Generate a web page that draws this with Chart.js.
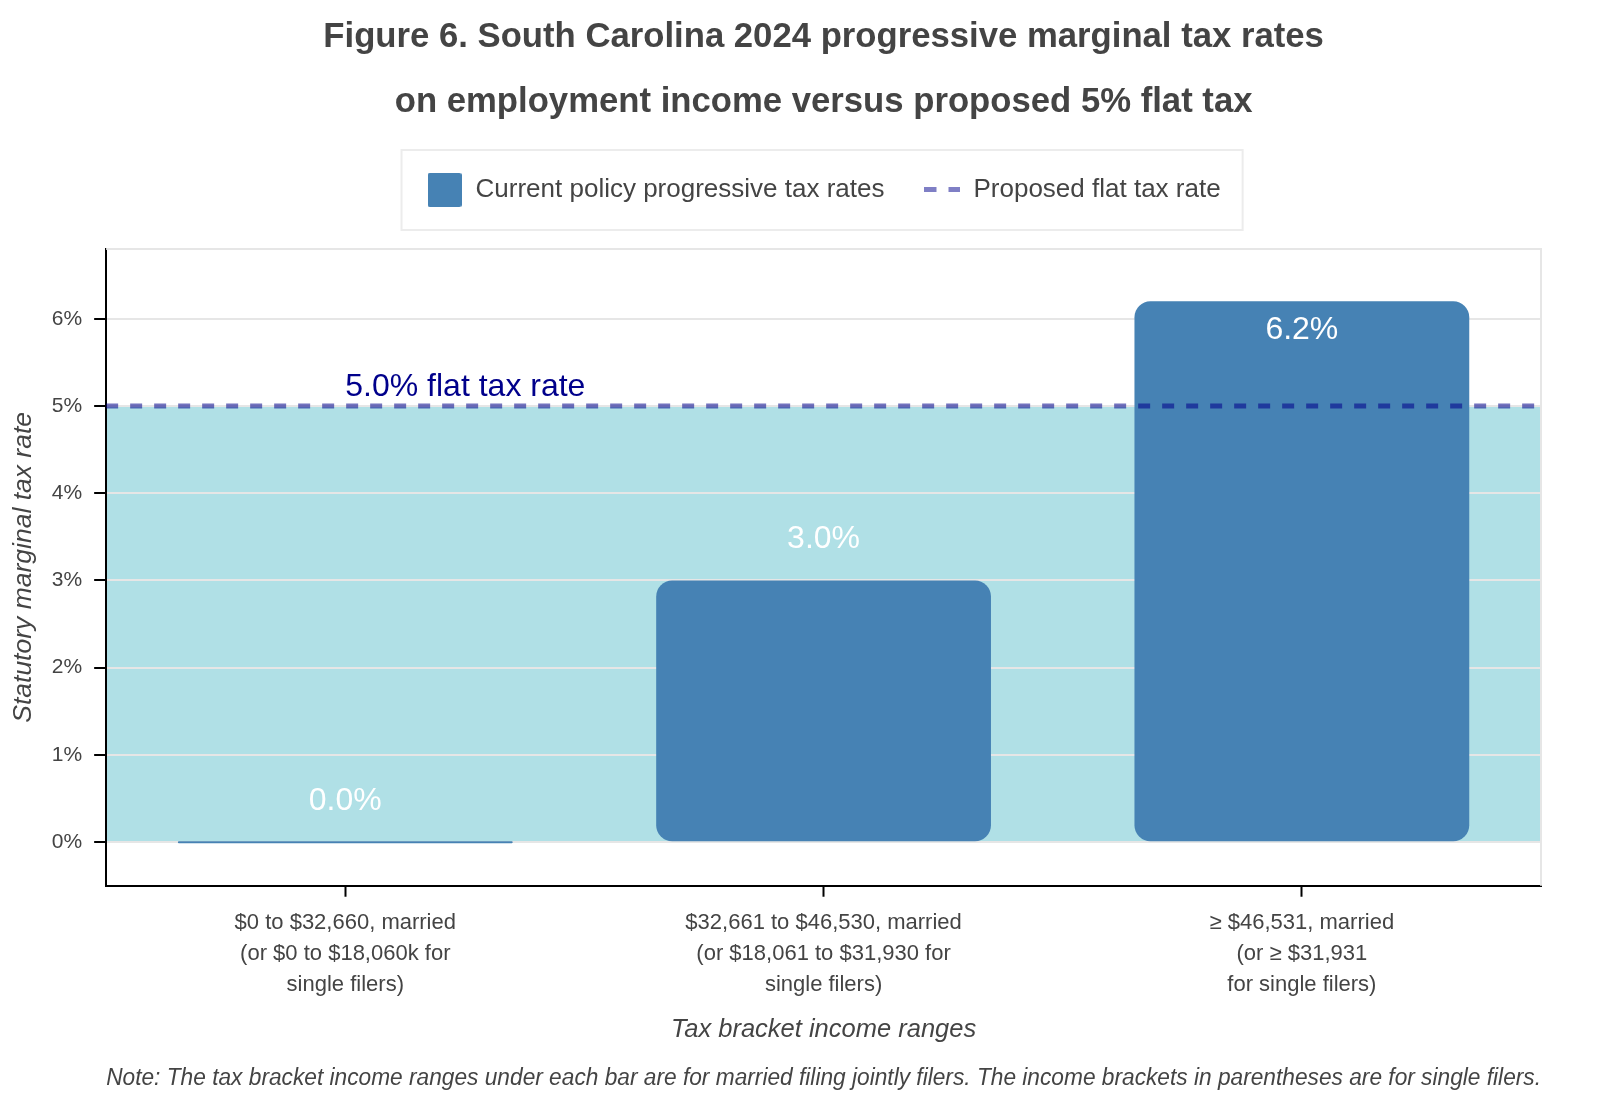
<!DOCTYPE html>
<html>
<head>
<meta charset="utf-8">
<title>South Carolina 2024 marginal tax rates</title>
<script src="https://cdn.jsdelivr.net/npm/chart.js@4.4.1/dist/chart.umd.min.js"></script>
<style>
  html, body { margin: 0; padding: 0; background: #fff; }
  #wrap { width: 1600px; height: 1100px; }
</style>
</head>
<body>
<div id="wrap"><canvas id="chart" width="1600" height="1100"></canvas></div>
<script>
const titleLines = [
    "Figure 6. South Carolina 2024 progressive marginal tax rates",
    "on employment income versus proposed 5% flat tax"
];
const categories = [
    ["$0 to $32,660, married", "(or $0 to $18,060k for", "single filers)"],
    ["$32,661 to $46,530, married", "(or $18,061 to $31,930 for", "single filers)"],
    ["\u2265 $46,531, married", "(or \u2265 $31,931", "for single filers)"]
];
const currentRates = [0.0, 3.0, 6.2];
const flatRate = 5.0;
const flatLine = [flatRate, flatRate];
const yTicks = [0, 1, 2, 3, 4, 5, 6];
const seriesNames = ["Current policy progressive tax rates", "Proposed flat tax rate"];
const flatLabel = "5.0% flat tax rate";
const noteText = "Note: The tax bracket income ranges under each bar are for married filing jointly filers. The income brackets in parentheses are for single filers.";

const FONT = "'Liberation Sans', Arial, Helvetica, sans-serif";
const TEXT = "#444";
const BAR = "#4682b4";
const FLAT = "rgba(0, 0, 139, 0.55)";

Chart.defaults.font.family = FONT;
Chart.defaults.color = TEXT;

// little canvases used as legend symbols
function makeBarIcon() {
    const c = document.createElement("canvas");
    c.width = 34; c.height = 34;
    const g = c.getContext("2d");
    g.fillStyle = BAR;
    g.beginPath();
    g.roundRect(0, 0, 34, 34, 2);
    g.fill();
    return c;
}
function makeDashIcon() {
    const c = document.createElement("canvas");
    c.width = 36; c.height = 5;
    const g = c.getContext("2d");
    g.fillStyle = "rgba(0, 0, 139, 0.5)";
    g.fillRect(0, 0, 12, 5);
    g.fillRect(24, 0, 12, 5);
    return c;
}
const legendIcons = [makeBarIcon(), makeDashIcon()];

// extra room under the legend before the plot starts
const legendSpacer = {
    id: "legendSpacer",
    beforeInit(chart) {
        const fit = chart.legend.fit;
        chart.legend.fit = function () {
            fit.call(this);
            this.height += 36;
        };
    }
};

// grey frame on top/right of the plot, light border round the legend
const frames = {
    id: "frames",
    beforeDatasetsDraw(chart) {
        const { ctx, chartArea: a } = chart;
        ctx.save();
        ctx.strokeStyle = "#e6e6e6";
        ctx.lineWidth = 2;
        ctx.beginPath();
        ctx.moveTo(a.left, a.top);
        ctx.lineTo(a.right, a.top);
        ctx.lineTo(a.right, a.bottom);
        ctx.stroke();
        ctx.restore();
    },
    afterDraw(chart) {
        const hb = chart.legend.legendHitBoxes;
        if (!hb || !hb.length) return;
        const last = hb[hb.length - 1];
        const x0 = hb[0].left - 25;
        const x1 = last.left + last.width + 22;
        const cy = hb[0].top + hb[0].height / 2;
        const ctx = chart.ctx;
        ctx.save();
        ctx.strokeStyle = "#ececec";
        ctx.lineWidth = 2;
        ctx.strokeRect(x0, cy - 40, x1 - x0, 80);
        ctx.restore();
    }
};

// value labels on the bars and the flat-rate caption
const valueLabels = {
    id: "valueLabels",
    afterDatasetsDraw(chart) {
        const { ctx, chartArea } = chart;
        const x = chart.scales.x, y = chart.scales.y;
        const size = 32;
        ctx.save();
        ctx.font = `${size}px ${FONT}`;
        ctx.textAlign = "center";
        ctx.textBaseline = "middle";
        ctx.fillStyle = "#fff";
        currentRates.forEach((v, i) => {
            const top = y.getPixelForValue(v);
            let ly = top - 41;
            if (ly - size / 2 < chartArea.top) ly = top + 29;
            ctx.fillText(v.toFixed(1) + "%", x.getPixelForValue(i), ly);
        });
        ctx.textAlign = "left";
        ctx.textBaseline = "alphabetic";
        ctx.fillStyle = "#00008b";
        ctx.fillText(flatLabel, x.getPixelForValue(0), y.getPixelForValue(flatRate) - 10);
        ctx.restore();
    }
};

new Chart(document.getElementById("chart"), {
    type: "bar",
    data: {
        labels: categories,
        datasets: [
            {
                label: seriesNames[0],
                data: currentRates,
                backgroundColor: BAR,
                borderWidth: 0,
                borderRadius: 16,
                borderSkipped: false,
                minBarLength: 2,
                grouped: false,
                categoryPercentage: 1,
                barPercentage: 0.7,
                order: 1
            },
            {
                type: "line",
                label: seriesNames[1],
                data: flatLine,
                xAxisID: "xLine",
                borderColor: FLAT,
                borderWidth: 5,
                borderDash: [12, 12],
                pointRadius: 0,
                fill: "origin",
                backgroundColor: "#b0e0e6",
                order: 0
            }
        ]
    },
    options: {
        responsive: false,
        devicePixelRatio: 1,
        animation: false,
        layout: { padding: { left: 0, right: 59, top: 0, bottom: 0 } },
        plugins: {
            filler: { drawTime: "beforeDraw" },
            tooltip: { enabled: false },
            title: {
                display: true,
                text: titleLines,
                fullSize: false,
                color: TEXT,
                font: { size: 34.7, weight: "bold", lineHeight: 1.873 },
                padding: { top: 4.5, bottom: 2.5 }
            },
            legend: {
                display: true,
                position: "top",
                fullSize: false,
                labels: {
                    usePointStyle: true,
                    pointStyleWidth: 36,
                    padding: 40,
                    color: TEXT,
                    font: { size: 26 },
                    sort: (a, b) => a.datasetIndex - b.datasetIndex,
                    generateLabels(chart) {
                        const items = Chart.defaults.plugins.legend.labels.generateLabels(chart);
                        items.forEach(it => {
                            it.pointStyle = legendIcons[it.datasetIndex];
                            it.lineWidth = 0;
                            it.lineDash = [];
                        });
                        return items;
                    }
                }
            },
            subtitle: {
                display: true,
                text: noteText,
                position: "bottom",
                align: "start",
                fullSize: false,
                color: TEXT,
                font: { size: 23, style: "italic", lineHeight: 1.2 },
                padding: { top: 17.8, bottom: 7.2 }
            }
        },
        scales: {
            x: {
                offset: true,
                border: { display: true, color: "#000", width: 2 },
                grid: { offset: false, drawOnChartArea: false, drawTicks: true, tickLength: 11, tickColor: "#000", tickWidth: 2 },
                ticks: { padding: 10.5, color: TEXT, font: { size: 22, lineHeight: 1.41 }, maxRotation: 0, autoSkip: false },
                title: {
                    display: true,
                    text: "Tax bracket income ranges",
                    color: TEXT,
                    font: { size: 25.5, style: "italic", lineHeight: 1.2 },
                    padding: { top: 4, bottom: 2 }
                }
            },
            xLine: {
                type: "category",
                labels: ["start", "end"],
                offset: false,
                display: false
            },
            y: {
                min: -0.5,
                max: 6.8,
                afterBuildTicks(scale) {
                    scale.ticks = yTicks.map(v => ({ value: v }));
                },
                border: { display: true, color: "#000", width: 2 },
                grid: { color: "#e6e6e6", lineWidth: 2, drawTicks: true, tickLength: 12, tickColor: "#000", tickWidth: 2 },
                ticks: {
                    padding: 12,
                    color: TEXT,
                    font: { size: 21 },
                    callback: v => v + "%"
                },
                title: {
                    display: true,
                    text: "Statutory marginal tax rate",
                    color: TEXT,
                    font: { size: 26.5, style: "italic", lineHeight: 1.2 },
                    padding: { top: 8, bottom: 0 }
                }
            }
        }
    },
    plugins: [legendSpacer, frames, valueLabels]
});
</script>
</body>
</html>
